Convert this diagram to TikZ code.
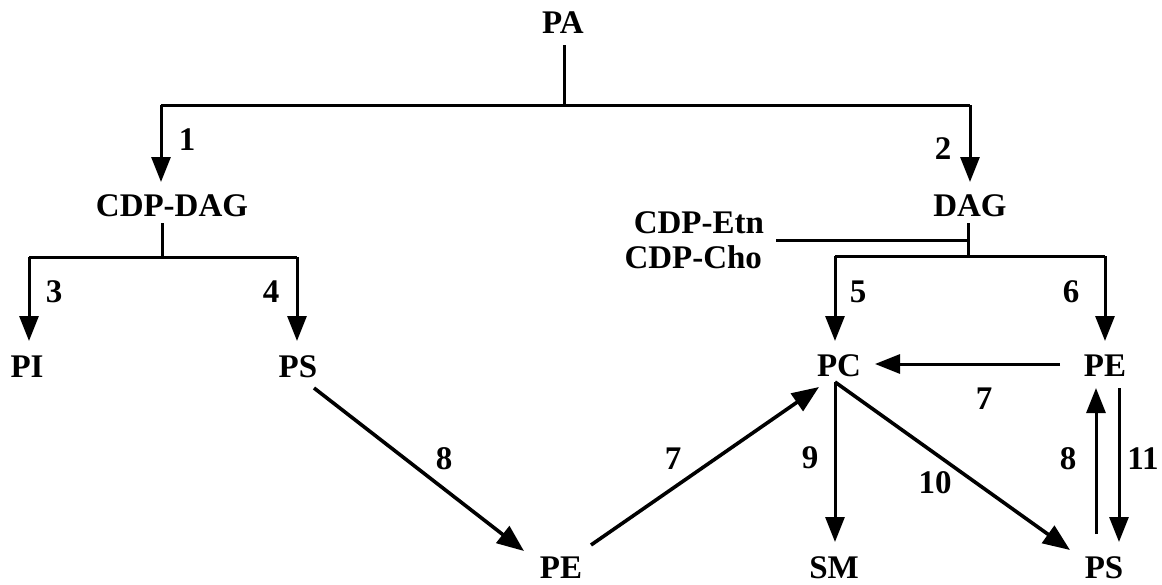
\documentclass[tikz,border=0pt]{standalone}
\usepackage{fontspec}
\setmainfont{Liberation Serif}
\usetikzlibrary{arrows.meta}
\begin{document}
\begin{tikzpicture}[x=1pt,y=-1pt,
  lbl/.style={font=\fontsize{33}{36}\selectfont\bfseries, inner sep=0pt, outer sep=0pt},
  ln/.style={line width=3pt},
  arr/.style={line width=3pt, -{Triangle[length=25pt,width=19pt]}},
  darr/.style={line width=3.6pt, -{Triangle[length=27pt,width=21pt]}}]
\useasboundingbox (0,0) rectangle (1162,584);
% nodes
\node[lbl] (PA) at (563,23) {PA};
\node[lbl] (CDPDAG) at (172,206) {CDP-DAG};
\node[lbl] (DAG) at (970,206) {DAG};
\node[lbl, anchor=east] (Etn) at (764,223) {CDP-Etn};
\node[lbl, anchor=east] (Cho) at (762,257) {CDP-Cho};
\node[lbl] (PI) at (27,367) {PI};
\node[lbl] (PSl) at (298,367) {PS};
\node[lbl] (PC) at (839,366) {PC};
\node[lbl] (PEr) at (1105,366) {PE};
\node[lbl] (PEb) at (561,568) {PE};
\node[lbl] (SM) at (834,568) {SM};
\node[lbl] (PSr) at (1104,568) {PS};
% junction coordinates
\coordinate (paT) at (564,45);
\coordinate (paB) at (564,105);
\coordinate (jL) at (161,105);
\coordinate (jR) at (970,105);
\coordinate (cdT) at (162,223);
\coordinate (cdB) at (162,257);
\coordinate (j3) at (29,257);
\coordinate (j4) at (297,257);
\coordinate (dgT) at (968,223);
\coordinate (dgM) at (968,240);
\coordinate (sideL) at (776,240);
\coordinate (dgB) at (968,256);
\coordinate (j5) at (835,256);
\coordinate (j6) at (1105,256);
\coordinate (pcOut) at (835,382);
% tree connectors
\draw[ln] (paT) -- (paB);
\draw[ln] (jL) -- (jR);
\draw[arr] (jL) -- (161,182);
\draw[arr] (jR) -- (970,182);
\draw[ln] (cdT) -- (cdB);
\draw[ln] (j3) -- (j4);
\draw[arr] (j3) -- (29,341);
\draw[arr] (j4) -- (297,341);
\draw[ln] (dgT) -- (dgB);
\draw[ln] (sideL) -- (dgM);
\draw[ln] (j5) -- (j6);
\draw[arr] (j5) -- (835,341);
\draw[arr] (j6) -- (1105,341);
% network connectors
\draw[arr] (1060,364) -- (875,364);
\draw[darr] (314,388) -- (524,551);
\draw[darr] (591,545) -- (819,387);
\draw[arr] (pcOut) -- (835,542);
\draw[darr] (pcOut) -- (1070,550);
\draw[arr] (1096,534) -- (1096,388);
\draw[arr] (1119,388) -- (1119,542);
% labels
\node[lbl] (l1) at (187,140) {1};
\node[lbl] (l2) at (943,149) {2};
\node[lbl] (l3) at (54,292) {3};
\node[lbl] (l4) at (271,292) {4};
\node[lbl] (l5) at (858,292) {5};
\node[lbl] (l6) at (1071,292) {6};
\node[lbl] (l7a) at (984,399) {7};
\node[lbl] (l8a) at (444,459) {8};
\node[lbl] (l7b) at (673,459) {7};
\node[lbl] (l9) at (810,458) {9};
\node[lbl] (l10) at (935,483) {10};
\node[lbl] (l8b) at (1068,459) {8};
\node[lbl] (l11) at (1143,459) {11};
\end{tikzpicture}
\end{document}
